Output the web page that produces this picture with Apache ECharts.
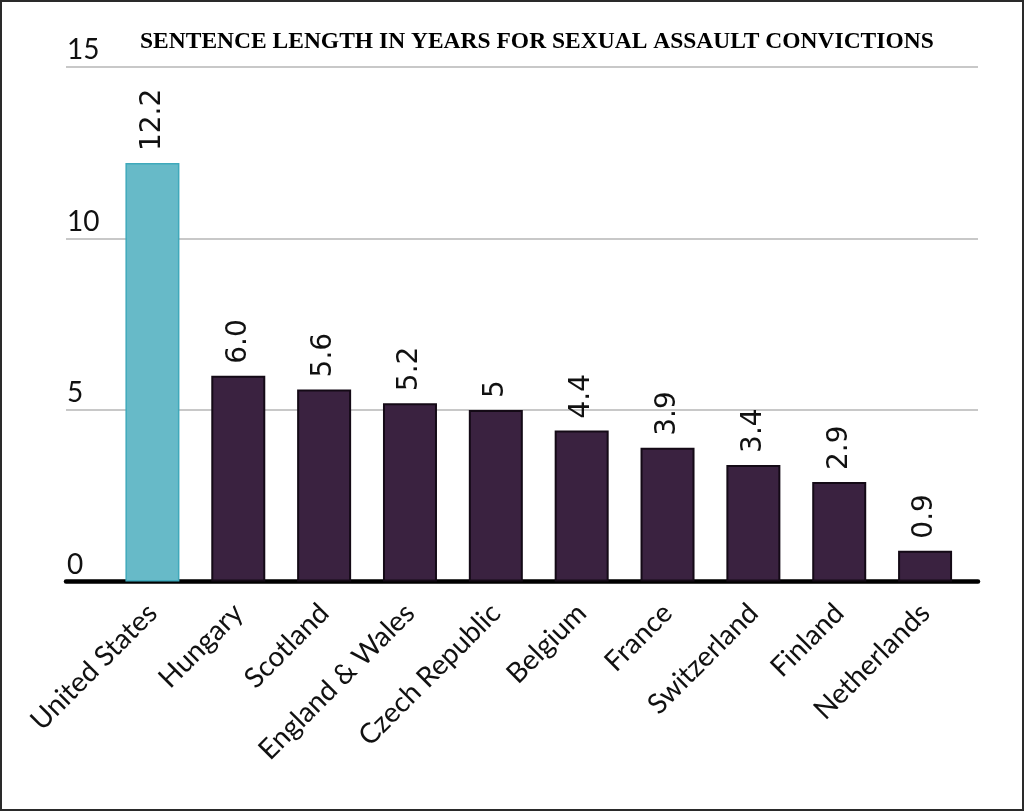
<!DOCTYPE html>
<html>
<head>
<meta charset="utf-8">
<script src="https://cdn.jsdelivr.net/npm/echarts@6/dist/echarts.min.js"></script>
<style>
  html, body { margin: 0; padding: 0; background: #fff; }
  #wrap { position: relative; width: 1024px; height: 811px; }
  #main { width: 1024px; height: 811px; }
  #frame { position: absolute; left: 0; top: 0; width: 1024px; height: 811px; box-sizing: border-box; border: 2px solid #2a2a2a; pointer-events: none; }
</style>
</head>
<body>
<div id="wrap"><div id="main"></div><div id="frame"></div></div>
<script>
const titleText = "SENTENCE LENGTH IN YEARS FOR SEXUAL ASSAULT CONVICTIONS";
const categories = ["United States", "Hungary", "Scotland", "England & Wales", "Czech Republic", "Belgium", "France", "Switzerland", "Finland", "Netherlands"];
const values = [12.2, 6.0, 5.6, 5.2, 5, 4.4, 3.9, 3.4, 2.9, 0.9];
const valueLabels = ["12.2", "6.0", "5.6", "5.2", "5", "4.4", "3.9", "3.4", "2.9", "0.9"];
const highlighted = ["United States"];
const yMin = 0, yMax = 15, yInterval = 5;

const chart = echarts.init(document.getElementById('main'));

const barData = values.map((v, i) => {
  const hi = highlighted.includes(categories[i]);
  return {
    value: v,
    itemStyle: hi
      ? { color: '#67bac8', borderColor: '#3fa9bb', borderWidth: 1.5 }
      : { color: '#3a2240', borderColor: '#140a16', borderWidth: 2 }
  };
});

const option = {
  animation: false,
  backgroundColor: '#ffffff',
  title: {
    text: titleText,
    left: 135,
    top: 25,
    textStyle: { fontFamily: 'Liberation Serif', fontWeight: 'bold', fontSize: 23.5, color: '#000' }
  },
  grid: [
    { left: 66, right: 46, top: 67, bottom: 229.5, containLabel: false },
    { left: 109.5, right: 56, top: 67, bottom: 229.5, containLabel: false }
  ],
  xAxis: [
    {
      gridIndex: 0, type: 'value', min: 0, max: 1,
      axisLine: { show: true, onZero: false, lineStyle: { color: '#000', width: 4.5 } },
      axisTick: { show: false }, axisLabel: { show: false }, splitLine: { show: false }
    },
    {
      gridIndex: 1, type: 'category', data: categories,
      axisLine: { show: false }, axisTick: { show: false },
      axisLabel: {
        rotate: 45, interval: 0, margin: 27,
        padding: [20, 0, 0, 0],
        fontFamily: 'Lato', fontSize: 28, color: '#111'
      }
    }
  ],
  yAxis: [
    {
      gridIndex: 0, type: 'value', min: yMin, max: yMax, interval: yInterval,
      axisLine: { show: false }, axisTick: { show: false },
      splitLine: { show: true, lineStyle: { color: '#c8c8c8', width: 2 } },
      axisLabel: {
        inside: true, margin: 1, align: 'left', verticalAlign: 'bottom',
        padding: [0, 0, 3, 0],
        fontFamily: 'Lato', fontSize: 28, color: '#111'
      }
    },
    {
      gridIndex: 1, type: 'value', min: yMin, max: yMax, interval: yInterval, show: false,
      splitLine: { show: false }
    }
  ],
  series: [
    {
      type: 'bar', xAxisIndex: 1, yAxisIndex: 1,
      data: barData, barWidth: 54,
      label: {
        show: true, position: 'top', rotate: 90, align: 'left', verticalAlign: 'middle',
        distance: 12,
        formatter: p => valueLabels[p.dataIndex],
        fontFamily: 'DejaVu Sans', fontSize: 28, color: '#111'
      }
    }
  ]
};
chart.setOption(option);
</script>
</body>
</html>
